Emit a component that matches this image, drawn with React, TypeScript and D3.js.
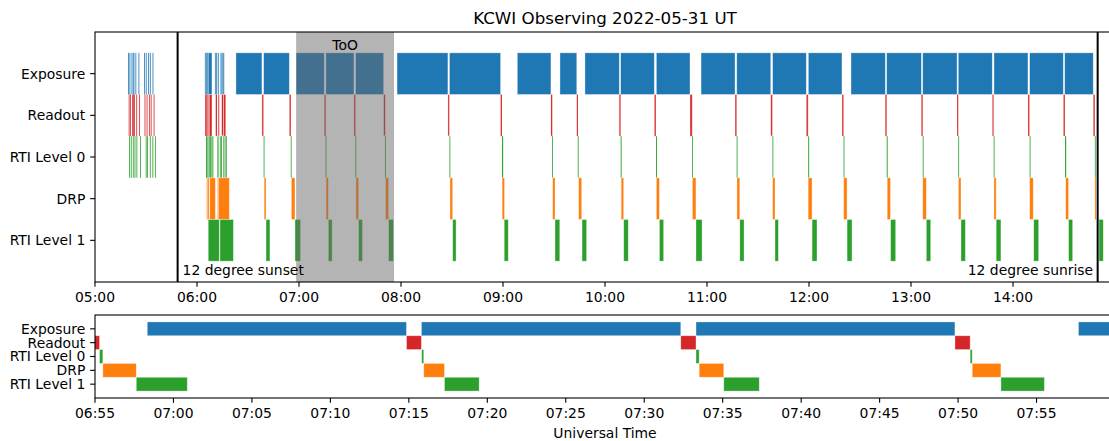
import React from "react";
import * as d3 from "d3";

// ---------- data (UT times as "HH:MM.m") ----------
const TITLE = "KCWI Observing 2022-05-31 UT";
const CATEGORIES = ["Exposure", "Readout", "RTI Level 0", "DRP", "RTI Level 1"];
const ROW_COLORS = ["#1f77b4", "#d62728", "#2ca02c", "#ff7f0e", "#2ca02c"];

const EXPOSURE: [string, string][] = [
  ["05:19.6", "05:19.85"], ["05:20.4", "05:20.65"], ["05:21.6", "05:21.85"], ["05:22.4", "05:22.6"],
  ["05:22.8", "05:23.0"], ["05:23.9", "05:24.15"], ["05:25.7", "05:25.95"], ["05:29.0", "05:29.25"],
  ["05:30.0", "05:30.25"], ["05:31.4", "05:31.65"], ["05:32.4", "05:32.65"], ["05:33.9", "05:34.3"],
  ["06:04.7", "06:05.1"], ["06:05.3", "06:05.7"], ["06:05.9", "06:06.3"], ["06:06.6", "06:08.8"],
  ["06:10.6", "06:11.0"], ["06:11.2", "06:11.6"], ["06:12.2", "06:12.8"],
  ["06:13.9", "06:14.3"], ["06:14.5", "06:14.9"], ["06:15.1", "06:15.5"], ["06:15.6", "06:15.9"],
  ["06:22.9", "06:38.2"], ["06:39.2", "06:54.3"], ["06:58.33", "07:14.85"], ["07:15.8", "07:32.33"],
  ["07:33.3", "07:49.8"], ["07:57.67", "08:27.6"], ["08:28.5", "08:58.6"], ["09:08.4", "09:28.2"],
  ["09:33.5", "09:43.4"], ["09:48.2", "10:08.4"], ["10:09.2", "10:29.0"], ["10:30.2", "10:50.0"],
  ["10:56.5", "11:16.5"], ["11:17.5", "11:37.5"], ["11:38.6", "11:58.4"], ["11:59.6", "12:19.4"],
  ["12:24.7", "12:44.9"], ["12:45.7", "13:06.1"], ["13:06.9", "13:27.1"], ["13:27.8", "13:47.8"],
  ["13:48.8", "14:08.8"], ["14:09.8", "14:29.6"], ["14:30.4", "14:47.2"],
];

const READOUT: [string, string][] = [
  ["05:19.85", "05:20.3"], ["05:20.65", "05:21.1"], ["05:21.85", "05:22.3"], ["05:22.5", "05:22.8"],
  ["05:23.0", "05:23.4"], ["05:24.3", "05:24.75"], ["05:25.95", "05:26.4"], ["05:29.2", "05:29.6"],
  ["05:30.4", "05:30.85"], ["05:31.8", "05:32.25"], ["05:32.8", "05:33.25"], ["05:34.5", "05:35.0"],
  ["06:04.7", "06:05.2"], ["06:05.4", "06:05.9"], ["06:06.1", "06:06.8"], ["06:07.2", "06:08.8"],
  ["06:11.0", "06:11.8"], ["06:12.5", "06:13.1"], ["06:14.5", "06:15.6"], ["06:15.7", "06:16.9"],
  ["06:38.2", "06:39.2"], ["06:54.3", "06:55.29"], ["07:14.85", "07:15.8"], ["07:32.33", "07:33.3"],
  ["07:49.8", "07:50.77"], ["08:27.6", "08:28.5"], ["08:58.6", "08:59.4"], ["09:28.2", "09:29.0"],
  ["09:43.4", "09:44.1"], ["10:08.4", "10:09.2"], ["10:29.0", "10:30.0"], ["10:50.0", "10:51.3"],
  ["11:16.5", "11:17.5"], ["11:37.5", "11:38.5"], ["11:58.4", "11:59.5"], ["12:19.4", "12:20.4"],
  ["12:44.9", "12:45.7"], ["13:06.1", "13:06.9"], ["13:27.1", "13:27.8"], ["13:47.8", "13:48.7"],
  ["14:08.8", "14:09.8"], ["14:29.6", "14:30.6"], ["14:47.2", "14:48.2"],
];

const RTI_LEVEL0: [string, string][] = [
  ["05:20.2", "05:20.45"], ["05:21.2", "05:21.45"], ["05:22.4", "05:22.65"], ["05:23.4", "05:23.65"],
  ["05:24.5", "05:24.75"], ["05:26.6", "05:26.85"], ["05:30.0", "05:30.25"], ["05:30.8", "05:31.05"],
  ["05:32.4", "05:32.65"], ["05:33.9", "05:34.15"], ["05:35.5", "05:35.75"],
  ["06:05.3", "06:05.9"], ["06:06.1", "06:06.7"], ["06:06.9", "06:07.5"], ["06:07.7", "06:08.3"],
  ["06:08.5", "06:09.0"], ["06:09.1", "06:09.6"], ["06:11.9", "06:12.8"],
  ["06:13.5", "06:13.9"], ["06:14.2", "06:14.7"], ["06:15.5", "06:16.0"], ["06:16.3", "06:16.8"], ["06:17.0", "06:17.5"],
  ["06:39.3", "06:39.6"], ["06:55.29", "06:55.5"], ["07:15.82", "07:15.95"], ["07:33.3", "07:33.5"],
  ["07:50.77", "07:50.9"], ["08:28.5", "08:29.0"], ["08:59.4", "09:00.1"], ["09:29.0", "09:29.2"],
  ["09:44.1", "09:44.4"], ["10:09.2", "10:09.8"], ["10:30.0", "10:30.6"], ["10:51.3", "10:51.7"],
  ["11:17.5", "11:17.9"], ["11:38.5", "11:39.0"], ["11:59.5", "12:00.1"], ["12:20.4", "12:20.8"],
  ["12:45.7", "12:46.3"], ["13:06.9", "13:07.4"], ["13:27.8", "13:28.3"], ["13:48.7", "13:49.1"],
  ["14:09.8", "14:10.3"], ["14:30.6", "14:31.3"], ["14:48.2", "14:48.6"],
];

const DRP: [string, string][] = [
  ["06:05.7", "06:06.2"], ["06:06.4", "06:07.0"], ["06:07.5", "06:10.8"], ["06:12.2", "06:12.6"], ["06:12.7", "06:19.0"],
  ["06:39.5", "06:40.6"], ["06:55.5", "06:57.63"], ["07:15.95", "07:17.27"], ["07:33.5", "07:35.07"],
  ["07:50.9", "07:52.73"], ["08:28.8", "08:30.4"], ["08:59.5", "09:00.9"], ["09:29.2", "09:30.6"],
  ["09:44.5", "09:46.3"], ["10:09.5", "10:11.0"], ["10:30.2", "10:32.0"], ["10:51.4", "10:53.5"],
  ["11:17.6", "11:19.3"], ["11:38.6", "11:40.0"], ["11:59.5", "12:01.8"], ["12:20.4", "12:22.4"],
  ["12:46.0", "12:47.9"], ["13:06.9", "13:09.0"], ["13:27.9", "13:29.4"], ["13:48.8", "13:50.1"],
  ["14:09.8", "14:11.9"], ["14:31.0", "14:32.7"], ["14:48.2", "14:48.8"],
];

const RTI_LEVEL1: [string, string][] = [
  ["06:06.6", "06:13.1"], ["06:13.5", "06:21.4"],
  ["06:40.6", "06:42.9"], ["06:57.63", "07:00.88"], ["07:17.27", "07:19.48"], ["07:35.07", "07:37.33"],
  ["07:52.73", "07:55.5"], ["08:30.4", "08:32.4"], ["09:00.7", "09:03.1"], ["09:30.6", "09:33.4"],
  ["09:46.5", "09:49.2"], ["10:11.0", "10:13.7"], ["10:32.0", "10:34.5"], ["10:53.5", "10:57.1"],
  ["11:19.3", "11:21.8"], ["11:40.0", "11:42.0"], ["12:01.8", "12:04.7"], ["12:22.4", "12:25.3"],
  ["12:48.0", "12:51.0"], ["13:09.0", "13:11.6"], ["13:29.4", "13:32.0"], ["13:50.1", "13:52.9"],
  ["14:12.2", "14:15.1"], ["14:32.7", "14:35.1"], ["14:50.6", "14:53.1"],
];

const ROWS = [EXPOSURE, READOUT, RTI_LEVEL0, DRP, RTI_LEVEL1];

const TOO_SPAN: [string, string] = ["06:58.33", "07:55.9"];
const TOO_LABEL = "ToO";
const SUNSET = "05:48.6";
const SUNRISE = "14:49.8";
const SUNSET_LABEL = "12 degree sunset";
const SUNRISE_LABEL = "12 degree sunrise";

const TOP_DOMAIN: [string, string] = ["05:00", "15:00"];
const TOP_TICKS = ["05:00", "06:00", "07:00", "08:00", "09:00", "10:00", "11:00", "12:00", "13:00", "14:00"];
const BOTTOM_DOMAIN: [string, string] = ["06:55", "08:00"];
const BOTTOM_TICKS = ["06:55", "07:00", "07:05", "07:10", "07:15", "07:20", "07:25", "07:30", "07:35", "07:40", "07:45", "07:50", "07:55"];
const X_LABEL = "Universal Time";

// ---------- helpers ----------
const toDate = (s: string) => {
  const [h, m] = s.split(":");
  const mins = Number(h) * 60 + parseFloat(m);
  return new Date(Date.UTC(2022, 4, 31) + mins * 60000);
};

const W = 1109;
const H = 441;
const FONT = "DejaVu Sans, sans-serif";
const FS = 13.9;
const TICK = 4.86;
const PAD = 4.86;
const LEFT = 95;
const RIGHT = 1115;

type PanelProps = {
  id: string;
  top: number;
  bottom: number;
  domain: [string, string];
  ticks: string[];
  overlay?: (x: d3.ScaleTime<number, number>) => React.ReactNode;
};

function Panel({ id, top, bottom, domain, ticks, overlay }: PanelProps) {
  const x = d3.scaleUtc().domain([toDate(domain[0]), toDate(domain[1])]).range([LEFT, RIGHT]);
  const y = d3.scaleLinear().domain([-1, 5]).range([top, bottom]);
  const clip = `clip-${id}`;
  return (
    <g>
      <defs>
        <clipPath id={clip}>
          <rect x={LEFT} y={top} width={RIGHT - LEFT} height={bottom - top} />
        </clipPath>
      </defs>
      <g clipPath={`url(#${clip})`}>
        {ROWS.map((row, i) =>
          row.map(([s, e], j) => {
            const x0 = x(toDate(s));
            const x1 = x(toDate(e));
            const w = x1 - x0;
            const thin = w < 1.5;
            return (
              <rect
                key={`${i}-${j}`}
                x={thin ? x0 - (Math.max(w, 0.9) - w) / 2 : x0}
                y={y(i - 0.5)}
                width={Math.max(w, 0.9)}
                height={y(i + 0.5) - y(i - 0.5)}
                fill={ROW_COLORS[i]}
                stroke="#ffffff"
                strokeOpacity={thin ? 0.25 : 0.5}
                strokeWidth={thin ? 0.4 : 0.7}
              />
            );
          })
        )}
      </g>
      {overlay && overlay(x)}
      {/* frame */}
      <rect x={LEFT} y={top} width={RIGHT - LEFT} height={bottom - top} fill="none" stroke="#000" strokeWidth={1.1} />
      {/* y ticks */}
      {CATEGORIES.map((c, i) => (
        <g key={c}>
          <line x1={LEFT - TICK} x2={LEFT} y1={y(i)} y2={y(i)} stroke="#000" strokeWidth={1.1} />
          <text x={LEFT - TICK - PAD} y={y(i) + 4.9} textAnchor="end" fontSize={FS} fontFamily={FONT} fill="#000">
            {c}
          </text>
        </g>
      ))}
      {/* x ticks */}
      {ticks.map((t) => {
        const xx = x(toDate(t));
        return (
          <g key={t}>
            <line x1={xx} x2={xx} y1={bottom} y2={bottom + TICK} stroke="#000" strokeWidth={1.1} />
            <text x={xx} y={bottom + TICK + PAD + 10.6} textAnchor="middle" fontSize={FS} fontFamily={FONT} fill="#000">
              {t}
            </text>
          </g>
        );
      })}
    </g>
  );
}

export default function App() {
  const topT = 32;
  const topB = 282;
  const botT = 315;
  const botB = 398;
  return (
    <svg
      width={W}
      height={H}
      viewBox={`0 0 ${W} ${H}`}
      style={{ position: "absolute", left: 0, top: 0, background: "#fff" }}
    >
      <rect x={0} y={0} width={W} height={H} fill="#fff" />
      <text x={(LEFT + RIGHT) / 2} y={topT - 8.3} textAnchor="middle" fontSize={16.7} fontFamily={FONT} fill="#000">
        {TITLE}
      </text>
      <Panel
        id="top"
        top={topT}
        bottom={topB}
        domain={TOP_DOMAIN}
        ticks={TOP_TICKS}
        overlay={(x) => {
          const a = x(toDate(TOO_SPAN[0]));
          const b = x(toDate(TOO_SPAN[1]));
          const ss = x(toDate(SUNSET));
          const sr = x(toDate(SUNRISE));
          return (
            <g>
              <rect x={a} y={topT} width={b - a} height={topB - topT} fill="#696969" fillOpacity={0.5} />
              <text x={(a + b) / 2} y={50} textAnchor="middle" fontSize={FS} fontFamily={FONT} fill="#000">
                {TOO_LABEL}
              </text>
              <line x1={ss} x2={ss} y1={topT} y2={topB} stroke="#000" strokeWidth={2} />
              <line x1={sr} x2={sr} y1={topT} y2={topB} stroke="#000" strokeWidth={2} />
              <text x={ss + 5} y={274.5} fontSize={FS} fontFamily={FONT} fill="#000">
                {SUNSET_LABEL}
              </text>
              <text x={sr - 4.5} y={274.5} textAnchor="end" fontSize={FS} fontFamily={FONT} fill="#000">
                {SUNRISE_LABEL}
              </text>
            </g>
          );
        }}
      />
      <Panel id="bottom" top={botT} bottom={botB} domain={BOTTOM_DOMAIN} ticks={BOTTOM_TICKS} />
      <text x={(LEFT + RIGHT) / 2} y={437.5} textAnchor="middle" fontSize={FS} fontFamily={FONT} fill="#000">
        {X_LABEL}
      </text>
    </svg>
  );
}
